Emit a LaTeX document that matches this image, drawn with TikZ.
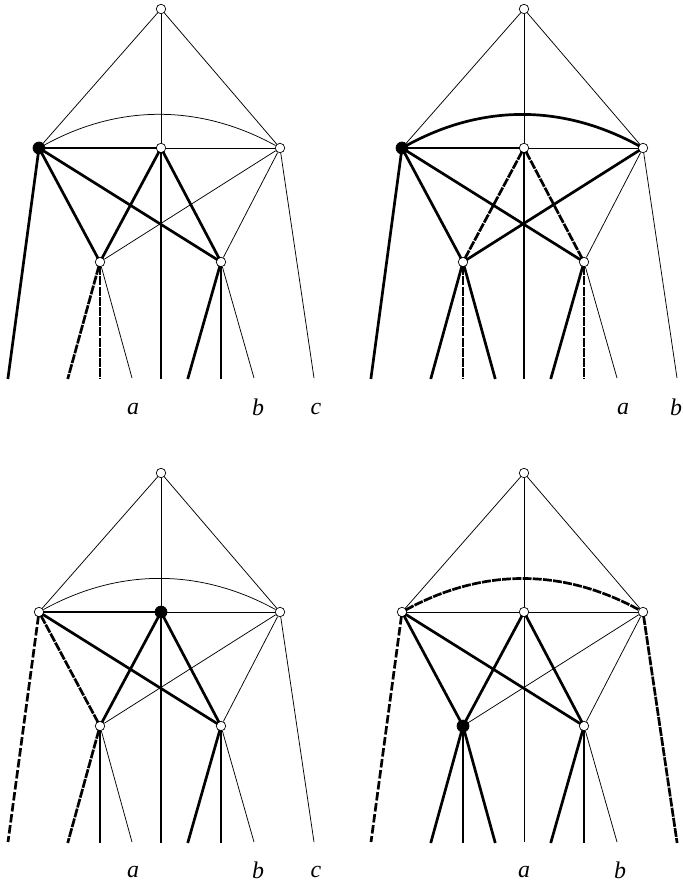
\documentclass[tikz,border=0pt]{standalone}
\usepackage{fontspec}
\setmainfont{Liberation Serif}
\tikzset{
  x=1bp,y=-1bp,
  opn/.style={circle,draw=black,line width=0.7bp,fill=white,minimum size=9.5bp,inner sep=0pt},
  blk/.style={circle,draw=black,line width=0.7bp,fill=black,minimum size=12bp,inner sep=0pt},
  thinedge/.style={line width=0.75bp,black},
  heavy/.style={line width=2.7bp,black,shorten >=-1bp,shorten <=-1bp},
  dashA/.style={line width=2.7bp,black,dash pattern=on 9bp off 1.2bp,shorten >=-1bp,shorten <=-1bp},
  dashB/.style={line width=2.7bp,black,dash pattern=on 8.5bp off 2.6bp,shorten <=-1bp},
  lab/.style={font=\fontsize{24}{24}\selectfont\itshape,inner sep=0pt},
}
\newcommand\mkpanel[4]{%
  \tikzset{nL/.style=opn,nC/.style=opn,nR/.style=opn,nA/.style=opn,n#4/.style=blk}%
  \begin{scope}[shift={(#2,#3)}]
    \node[opn] (#1T) at (161,9) {};
    \node[nL] (#1L) at (39,148) {};
    \node[nC] (#1C) at (161,148) {};
    \node[nR] (#1R) at (280,148) {};
    \node[nA] (#1A) at (100,262) {};
    \node[opn] (#1B) at (221,262) {};
    \coordinate (#1e1) at (8,378);
    \coordinate (#1e2) at (68,378);
    \coordinate (#1e3) at (100,378);
    \coordinate (#1e4) at (132,378);
    \coordinate (#1e5) at (161,378);
    \coordinate (#1e6) at (188,378);
    \coordinate (#1e7) at (221,378);
    \coordinate (#1e8) at (254,378);
    \coordinate (#1e9) at (314,378);
  \end{scope}%
  \foreach \u/\v in {T/L,T/C,T/R} \draw[thinedge] (#1\u) -- (#1\v);%
}
\newcommand\arcedge[2]{\draw[#2] (#1L) .. controls +(80,-44) and +(-80,-44) .. (#1R);}
\begin{document}
\begin{tikzpicture}
\useasboundingbox (0,0) rectangle (683,884);
\clip (0,0) rectangle (683,884);
% panel 1
\mkpanel{p}{0}{0}{L}
\arcedge{p}{thinedge}
\foreach \u/\v in {C/R,R/A,R/B,R/e9,A/e4,B/e8} \draw[thinedge] (p\u) -- (p\v);
\foreach \u/\v in {L/C,L/A,L/B,L/e1,C/A,C/e5,C/B,B/e6,B/e7} \draw[heavy] (p\u) -- (p\v);
\foreach \u/\v in {A/e2,A/e3} \draw[dashA] (p\u) -- (p\v);
\node[lab] (pa) at (133,409) {a};
\node[lab] (pb) at (258,407) {b};
\node[lab] (pc) at (316,409) {c};
% panel 2
\mkpanel{q}{363}{0}{L}
\arcedge{q}{heavy}
\foreach \u/\v in {C/R,R/B,R/e9,B/e8} \draw[thinedge] (q\u) -- (q\v);
\foreach \u/\v in {L/C,L/A,L/B,L/e1,C/e5,R/A,A/e2,A/e4,B/e6} \draw[heavy] (q\u) -- (q\v);
\foreach \u/\v in {C/A,C/B,A/e3,B/e7} \draw[dashA] (q\u) -- (q\v);
\node[lab] (qa) at (623,409) {a};
\node[lab] (qb) at (676,407) {b};
% panel 3
\mkpanel{r}{0}{464}{C}
\arcedge{r}{thinedge}
\foreach \u/\v in {C/R,R/A,R/B,R/e9,A/e4,B/e8} \draw[thinedge] (r\u) -- (r\v);
\foreach \u/\v in {L/C,L/B,C/A,C/e5,C/B,A/e3,B/e6,B/e7} \draw[heavy] (r\u) -- (r\v);
\foreach \u/\v in {L/A,A/e2} \draw[dashA] (r\u) -- (r\v);
\draw[dashB] (rL) -- (re1);
\node[lab] (ra) at (133,872) {a};
\node[lab] (rb) at (258,870) {b};
\node[lab] (rc) at (316,872) {c};
% panel 4
\mkpanel{s}{363}{464}{A}
\arcedge{s}{dashA}
\foreach \u/\v in {L/C,C/R,R/A,R/B,C/e5,B/e8} \draw[thinedge] (s\u) -- (s\v);
\foreach \u/\v in {L/A,L/B,C/A,C/B,A/e2,A/e3,A/e4,B/e6,B/e7} \draw[heavy] (s\u) -- (s\v);
\draw[dashB] (sL) -- (se1);
\draw[dashA] (sR) -- (se9);
\node[lab] (sa) at (524,872) {a};
\node[lab] (sb) at (620,870) {b};
\end{tikzpicture}
\end{document}
